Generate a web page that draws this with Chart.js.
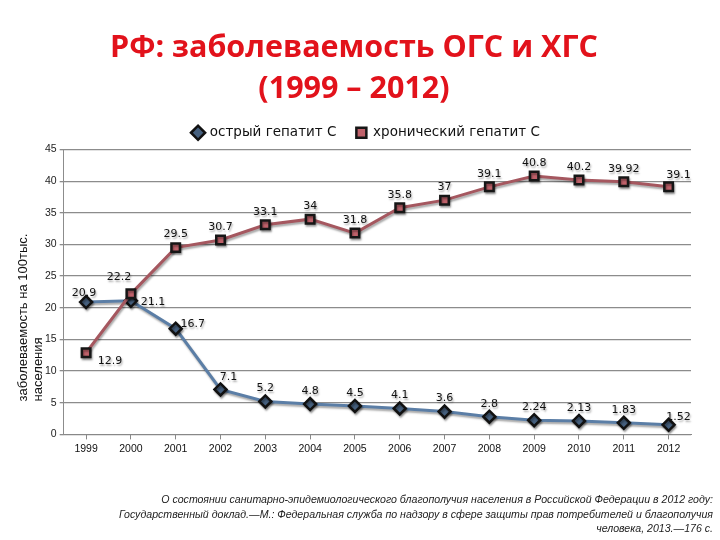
<!DOCTYPE html>
<html>
<head>
<meta charset="utf-8">
<script src="https://cdn.jsdelivr.net/npm/chart.js@4"></script>
<style>
  body { margin: 0; background: #fff; }
  #wrap { position: relative; width: 720px; height: 540px; overflow: hidden; }
  #chart { position: absolute; left: 0; top: 0; }
  #title {
    position: absolute; left: 0; top: 25px; width: 708px;
    font: bold 30.5px "Open Sans", sans-serif; line-height: 41px;
    text-align: center; color: #e2121b;
  }
  #note {
    position: absolute; right: 7px; top: 492px; width: 660px;
    font: italic 10.6px "Liberation Sans", Arial, sans-serif;
    line-height: 14.5px; text-align: right; color: #222;
  }
</style>
</head>
<body>
<div id="wrap">
  <canvas id="chart" width="720" height="540"></canvas>
  <div id="title">РФ: заболеваемость ОГС и ХГС<br>(1999 – 2012)</div>
  <div id="note">О состоянии санитарно-эпидемиологического благополучия населения в Российской Федерации в 2012 году:<br>Государственный доклад.—М.: Федеральная служба по надзору в сфере защиты прав потребителей и благополучия<br>человека, 2013.—176 с.</div>
</div>
<script>
var years = ['1999', '2000', '2001', '2002', '2003', '2004', '2005', '2006', '2007', '2008', '2009', '2010', '2011', '2012'];
var acute = [20.9, 21.1, 16.7, 7.1, 5.2, 4.8, 4.5, 4.1, 3.6, 2.8, 2.24, 2.13, 1.83, 1.52];
var chronic = [12.9, 22.2, 29.5, 30.7, 33.1, 34, 31.8, 35.8, 37, 39.1, 40.8, 40.2, 39.92, 39.1];
var yTicks = [0, 5, 10, 15, 20, 25, 30, 35, 40, 45];

// label nudges, [dx, dy] from the point, default is straight above
var acuteNudge = { 0: [-2, -9], 1: [22, 1], 2: [17, -5], 3: [8, -12], 13: [10, -8] };
var chronicNudge = { 0: [24, 8], 1: [-12, -17], 13: [10, -12] };

var valueLabels = {
    id: 'valueLabels',
    afterDatasetsDraw: function(chart) {
        var ctx = chart.ctx;
        ctx.save();
        ctx.font = '11px "DejaVu Sans", sans-serif';
        ctx.fillStyle = '#111';
        ctx.textAlign = 'center';
        ctx.textBaseline = 'middle';
        chart.data.datasets.forEach(function(ds, i) {
            var meta = chart.getDatasetMeta(i);
            var nudge = i === 0 ? acuteNudge : chronicNudge;
            meta.data.forEach(function(pt, j) {
                var d = nudge[j] || [0, -13];
                ctx.fillText(String(ds.data[j]), pt.x + d[0], pt.y + d[1]);
            });
        });
        ctx.restore();
    }
};

var yTitle = {
    id: 'yTitle',
    afterDraw: function(chart) {
        var ctx = chart.ctx;
        var area = chart.chartArea;
        ctx.save();
        ctx.font = '13px "Liberation Sans", Arial, sans-serif';
        ctx.fillStyle = '#111';
        ctx.textAlign = 'left';
        ctx.textBaseline = 'middle';
        ctx.translate(23, area.bottom - 33);
        ctx.rotate(-Math.PI / 2);
        ctx.fillText('заболеваемость на 100тыс.', 0, 0);
        ctx.fillText('населения', 0, 15);
        ctx.restore();
    }
};

var lineShadow = {
    id: 'lineShadow',
    beforeDatasetsDraw: function(chart) {
        chart.ctx.save();
        chart.ctx.shadowColor = 'rgba(0,0,0,0.35)';
        chart.ctx.shadowOffsetX = 1;
        chart.ctx.shadowOffsetY = 2;
        chart.ctx.shadowBlur = 2;
    },
    afterDatasetsDraw: function(chart) {
        chart.ctx.restore();
    }
};

new Chart(document.getElementById('chart').getContext('2d'), {
    type: 'line',
    data: {
        labels: years,
        datasets: [{
            label: 'острый гепатит С',
            data: acute,
            order: 1,
            borderColor: '#5b7ea6',
            borderWidth: 3,
            pointStyle: 'rectRot',
            pointRadius: 6,
            pointBackgroundColor: '#46607e',
            pointBorderColor: '#111',
            pointBorderWidth: 2.5,
            tension: 0
        }, {
            label: 'хронический гепатит С',
            data: chronic,
            order: 0,
            borderColor: '#a5575f',
            borderWidth: 3,
            pointStyle: 'rect',
            pointRadius: 6,
            pointBackgroundColor: '#c0626b',
            pointBorderColor: '#161616',
            pointBorderWidth: 2.5,
            tension: 0
        }]
    },
    options: {
        responsive: false,
        animation: false,
        layout: { padding: { left: 42, right: 29, top: 106, bottom: 82 } },
        plugins: {
            legend: {
                position: 'top',
                labels: {
                    usePointStyle: true,
                    boxWidth: 10,
                    boxHeight: 10,
                    padding: 20,
                    color: '#111',
                    font: { family: 'DejaVu Sans', size: 13.5 },
                    sort: function(a, b) { return a.datasetIndex - b.datasetIndex; }
                }
            },
            tooltip: { enabled: false }
        },
        scales: {
            x: {
                offset: true,
                grid: { display: true, drawOnChartArea: false, tickLength: 5, color: '#888' },
                border: { color: '#888' },
                ticks: { color: '#111', font: { family: 'Liberation Sans', size: 10.5 }, maxRotation: 0 }
            },
            y: {
                min: 0,
                max: 45,
                afterBuildTicks: function(axis) {
                    axis.ticks = yTicks.map(function(v) { return { value: v }; });
                },
                grid: { color: '#8c8c8c', lineWidth: 1.3, tickLength: 4 },
                border: { color: '#8c8c8c' },
                ticks: { color: '#222', font: { family: 'Liberation Sans', size: 10.5 }, padding: 3 }
            }
        }
    },
    plugins: [valueLabels, yTitle, lineShadow]
});
</script>
</body>
</html>
